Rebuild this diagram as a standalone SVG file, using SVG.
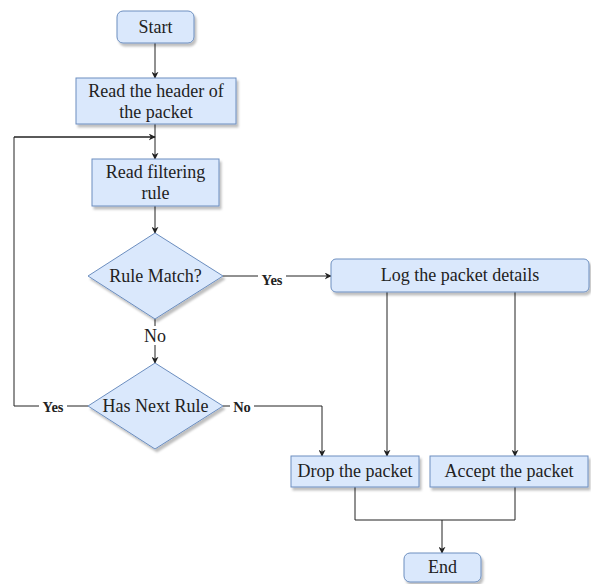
<svg xmlns="http://www.w3.org/2000/svg" width="591" height="584" viewBox="0 0 591 584">
<defs>
<style>
.n{fill:#dae8fc;stroke:#6c8ebf;stroke-width:1;filter:url(#sh)}
.t{font-family:"Liberation Serif","Times New Roman",serif;font-size:18px;fill:#222;text-anchor:middle}
.b{font-family:"Liberation Serif","Times New Roman",serif;font-size:14.5px;font-weight:bold;fill:#222;text-anchor:middle}
.e{fill:none;stroke:#222;stroke-width:1}
.lb{fill:#fff}
</style>
<filter id="sh" x="-10%" y="-10%" width="130%" height="140%">
<feDropShadow dx="2" dy="3" stdDeviation="0.8" flood-color="#000" flood-opacity="0.25"/>
</filter>
<marker id="a" viewBox="0 0 10 10" refX="9" refY="5" markerWidth="7" markerHeight="7" orient="auto" markerUnits="userSpaceOnUse">
<path d="M0,0 L10,5 L0,10 L3,5 Z" fill="#222"/>
</marker>
</defs>
<g id="connectors">
<path class="e" d="M155,43 V78" marker-end="url(#a)"/>
<path class="e" d="M155,124 V159" marker-end="url(#a)"/>
<path class="e" d="M14,406 H88 M14,406 V137 H155" />
<path class="e" d="M14,137 H155" marker-end="url(#a)"/>
<path class="e" d="M155,206 V233" marker-end="url(#a)"/>
<path class="e" d="M223,276 H331" marker-end="url(#a)"/>
<path class="e" d="M155,319 V363" marker-end="url(#a)"/>
<path class="e" d="M223,406 H322 V456" marker-end="url(#a)"/>
<path class="e" d="M387,292 V456" marker-end="url(#a)"/>
<path class="e" d="M515,292 V456" marker-end="url(#a)"/>
<path class="e" d="M355,487 V520 H515 V487"/>
<path class="e" d="M442,520 V553" marker-end="url(#a)"/>
<rect class="lb" x="39" y="398" width="28" height="17"/>
<text class="b" x="53" y="412">Yes</text>
<rect class="lb" x="258" y="270" width="28" height="16"/>
<text class="b" x="272" y="285">Yes</text>
<rect class="lb" x="230" y="398" width="24" height="17"/>
<text class="b" x="242" y="412">No</text>
<rect class="lb" x="142" y="326" width="26" height="19"/>
<text class="t" x="155" y="342">No</text>
</g>
<g id="start">
<rect class="n" x="117" y="11" width="77" height="32" rx="6"/>
<text class="t" x="155.5" y="33">Start</text>
</g>
<g id="read-header">
<rect class="n" x="76" y="78" width="160" height="46"/>
<text class="t" x="156" y="97">Read the header of</text>
<text class="t" x="156" y="118">the packet</text>
</g>
<g id="read-rule">
<rect class="n" x="92" y="159" width="127" height="47"/>
<text class="t" x="155.5" y="178">Read filtering</text>
<text class="t" x="155.5" y="199">rule</text>
</g>
<g id="rule-match">
<path class="n" d="M155,233 L223,276 L155,319 L88,276 Z"/>
<text class="t" x="155.5" y="282">Rule Match?</text>
</g>
<g id="has-next">
<path class="n" d="M155,363 L223,406 L155,449 L88,406 Z"/>
<text class="t" x="155.5" y="412">Has Next Rule</text>
</g>
<g id="log">
<rect class="n" x="331" y="259" width="258" height="33" rx="5"/>
<text class="t" x="460" y="281">Log the packet details</text>
</g>
<g id="drop">
<rect class="n" x="291" y="456" width="128" height="31"/>
<text class="t" x="355" y="477">Drop the packet</text>
</g>
<g id="accept">
<rect class="n" x="430" y="456" width="158" height="31"/>
<text class="t" x="509" y="477">Accept the packet</text>
</g>
<g id="end">
<rect class="n" x="404" y="553" width="77" height="29" rx="6"/>
<text class="t" x="442.5" y="573">End</text>
</g>
</svg>
